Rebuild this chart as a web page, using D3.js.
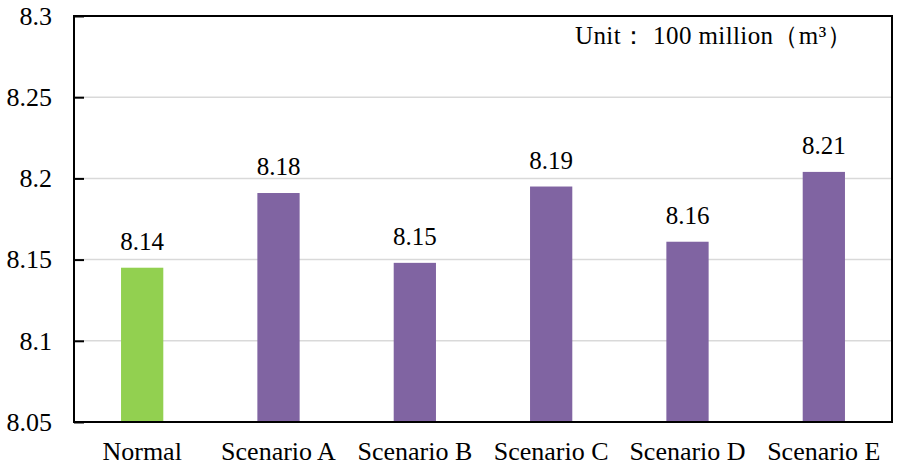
<!DOCTYPE html>
<html>
<head>
<meta charset="utf-8">
<script src="https://d3js.org/d3.v7.min.js"></script>
<style>
  body { margin: 0; background: #fff; }
</style>
</head>
<body>
<svg id="chart" width="898" height="466"></svg>
<script>
// data
var categories = ["Normal", "Scenario A", "Scenario B", "Scenario C", "Scenario D", "Scenario E"];
var values = [8.145, 8.191, 8.148, 8.195, 8.161, 8.204];
var labels = ["8.14", "8.18", "8.15", "8.19", "8.16", "8.21"];
var colors = ["#92D050", "#8064A2", "#8064A2", "#8064A2", "#8064A2", "#8064A2"];
var yTicks = [8.05, 8.1, 8.15, 8.2, 8.25, 8.3];
var unitText = "Unit\uFF1A 100 million\uFF08m\u00B3\uFF09";

var serif = "'Liberation Serif', 'Times New Roman', serif";

// plot box (named so they don't clash with window.top)
var plotLeft = 74, plotRight = 892, plotTop = 16, plotBottom = 422;

var svg = d3.select("#chart");

var x = d3.scaleBand().domain(categories).range([plotLeft, plotRight]).paddingInner(0.69).paddingOuter(0.345);
var y = d3.scaleLinear().domain([8.05, 8.3]).range([plotBottom, plotTop]);

// gridlines
svg.append("g")
  .selectAll("line")
  .data(yTicks.slice(1, -1))
  .enter().append("line")
  .attr("x1", plotLeft).attr("x2", plotRight)
  .attr("y1", function(d) { return y(d); })
  .attr("y2", function(d) { return y(d); })
  .attr("stroke", "#d9d9d9")
  .attr("stroke-width", 1.5);

// bars
svg.append("g")
  .selectAll("rect")
  .data(values)
  .enter().append("rect")
  .attr("x", function(d, i) { return x(categories[i]); })
  .attr("width", x.bandwidth())
  .attr("y", function(d) { return y(d); })
  .attr("height", function(d) { return plotBottom - y(d); })
  .attr("fill", function(d, i) { return colors[i]; });

// value labels
svg.append("g")
  .selectAll("text")
  .data(values)
  .enter().append("text")
  .attr("x", function(d, i) { return x(categories[i]) + x.bandwidth() / 2; })
  .attr("y", function(d) { return y(d) - 18; })
  .attr("text-anchor", "middle")
  .style("font-family", serif)
  .style("font-size", "25px")
  .style("fill", "#000")
  .text(function(d, i) { return labels[i]; });

// y axis, ticks pointing inward
var yAxis = svg.append("g")
  .attr("transform", "translate(" + plotLeft + ",0)")
  .call(d3.axisRight(y).tickValues(yTicks).tickSize(10).tickFormat(d3.format("")));
yAxis.select(".domain").remove();
yAxis.selectAll(".tick line").attr("stroke", "#000").attr("stroke-width", 2);
yAxis.selectAll(".tick text")
  .attr("x", -22)
  .attr("text-anchor", "end")
  .style("font-family", serif)
  .style("font-size", "26px")
  .style("fill", "#000");

// x axis labels
var xAxis = svg.append("g")
  .attr("transform", "translate(0," + plotBottom + ")")
  .call(d3.axisBottom(x).tickSize(0).tickPadding(20));
xAxis.select(".domain").remove();
xAxis.selectAll(".tick text")
  .style("font-family", serif)
  .style("font-size", "26px")
  .style("fill", "#000");

// frame
svg.append("rect")
  .attr("x", plotLeft).attr("y", plotTop)
  .attr("width", plotRight - plotLeft).attr("height", plotBottom - plotTop)
  .attr("fill", "none")
  .attr("stroke", "#000")
  .attr("stroke-width", 2);

// unit note
svg.append("text")
  .attr("x", 575).attr("y", 44)
  .style("font-family", serif)
  .style("font-size", "25px")
  .style("letter-spacing", "0.4px")
  .style("fill", "#000")
  .text(unitText);
</script>
</body>
</html>
